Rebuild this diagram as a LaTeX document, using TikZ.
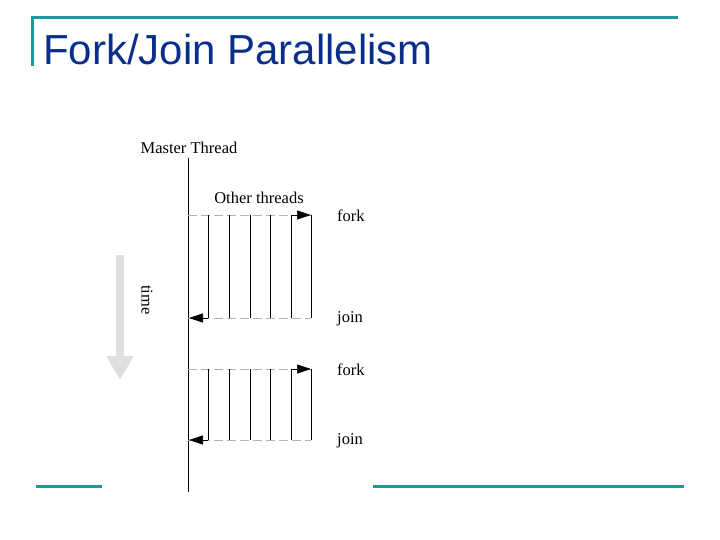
\documentclass[tikz,border=0pt]{standalone}
\usepackage{fontspec}
\setmainfont{Liberation Serif}
\newfontfamily\titlefont{Liberation Sans}
\usetikzlibrary{arrows.meta}
\definecolor{teal1}{HTML}{1A9A9A}
\definecolor{tblue}{HTML}{0A2F8A}
\begin{document}
\begin{tikzpicture}[x=1pt,y=-1pt,
  frame/.style={teal1,line width=3pt},
  thr/.style={black,line width=0.9pt},
  dashline/.style={gray!60,dash pattern=on 9pt off 4pt,line width=0.6pt},
  lbl/.style={font=\fontsize{16.5}{16.5}\selectfont,inner sep=0pt},
  tip/.style={-{Triangle[length=14pt,width=9pt]}}]
\useasboundingbox (0,0) rectangle (720,540);
\fill[white] (0,0) rectangle (720,540);
% frame
\draw[frame] (32,66) -- (32,18) -- (678,18);
\draw[frame] (36,486) -- (102,486);
\draw[frame] (373,486) -- (684,486);
\node[anchor=base west,inner sep=0pt,text=tblue,font=\titlefont\fontsize{42}{42}\selectfont] (title) at (43,65) {Fork/Join Parallelism};
% time arrow
\draw[gray!25,line width=8pt,-{Triangle[length=24pt,width=26pt]}] (120,255) -- (120,380);
\node[lbl,rotate=-90] (time) at (147,300) {time};
% master
\node[lbl,anchor=base] (mt) at (189,154) {Master Thread};
\coordinate (m0) at (188,158);
\coordinate (m1) at (188,492);
\draw[thr] (m0) -- (m1);
\node[lbl,anchor=base] (ot) at (259,204) {Other threads};
% blocks
\foreach \f/\j in {215/318,369/440}{
  \draw[dashline] (188,\f) -- (311,\f);
  \draw[dashline] (188,\j) -- (311,\j);
  \foreach \x in {208,229,250,270,291,311} \draw[thr] (\x,\f) -- (\x,\j);
  \draw[tip,line width=0.6pt] (291,\f) -- (311,\f);
  \draw[tip,line width=0.6pt] (208,\j) -- (189,\j);
}
\node[lbl,anchor=west] (f1) at (337,216) {fork};
\node[lbl,anchor=west] (j1) at (337,319) {join};
\node[lbl,anchor=west] (f2) at (337,370) {fork};
\node[lbl,anchor=west] (j2) at (337,441) {join};
\end{tikzpicture}
\end{document}
